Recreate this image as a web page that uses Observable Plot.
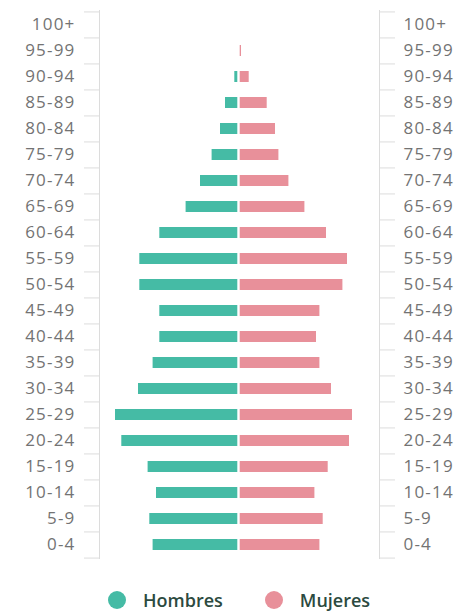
<!DOCTYPE html>
<html>
<head>
<meta charset="utf-8">
<script src="https://cdn.jsdelivr.net/npm/d3@7"></script>
<script src="https://cdn.jsdelivr.net/npm/@observablehq/plot@0.6"></script>
<style>
  html, body { margin: 0; padding: 0; background: #fff; }
  #wrap { position: relative; width: 462px; height: 614px; }
  #legend { position: absolute; left: 108px; top: 588px; display: flex; align-items: center;
    font-family: "Open Sans", sans-serif; font-weight: 600; font-size: 18px; color: #2c4a40; }
  .item { display: flex; align-items: center; }
  .sw { width: 18px; height: 18px; border-radius: 50%; display: inline-block; margin-right: 17px; }
</style>
</head>
<body>
<div id="wrap">
  <div id="chart"></div>
  <div id="legend"></div>
</div>
<script>
const ages = ["0-4","5-9","10-14","15-19","20-24","25-29","30-34","35-39","40-44","45-49","50-54","55-59","60-64","65-69","70-74","75-79","80-84","85-89","90-94","95-99","100+"];
const hombres = [84.7, 88, 81.3, 89.7, 116, 122.3, 99.3, 84.7, 78, 78, 98, 98, 78, 51.7, 37.3, 25.7, 17.3, 12.3, 3, 0, 0];
const mujeres = [79.7, 83, 74.7, 88, 109.3, 112.3, 91.3, 79.7, 76.3, 79.7, 102.7, 107.3, 86.3, 64.7, 48.7, 38.7, 35.3, 27, 9, 1.3, 0];
const series = ["Hombres", "Mujeres"];
const colors = ["#45bba5", "#e8909a"];

const male = ages.map((a, i) => ({age: a, v: hombres[i]})).filter(d => d.v > 0);
const female = ages.map((a, i) => ({age: a, v: mujeres[i]})).filter(d => d.v > 0);

const W = 462, H = 570, mT = 10, mB = 11, mL = 99, mR = 83;
const step = (H - mT - mB) / ages.length;
const grid = "#dcdcdc";
const xDom = [-139.5, 140.5];

const chart = Plot.plot({
  width: W, height: H,
  marginTop: mT, marginBottom: mB, marginLeft: mL, marginRight: mR,
  style: {fontSize: "17px", fontFamily: "'Open Sans', sans-serif", color: "#737373", letterSpacing: "1.2px", background: "#fff"},
  x: {domain: xDom, axis: null},
  y: {domain: ages.slice().reverse(), paddingInner: 0.56, paddingOuter: 0.28, label: null},
  marks: [
    Plot.ruleX(xDom, {stroke: grid}),
    Plot.axisY({anchor: "left", tickSize: 15, tickFormat: () => "", dy: -step / 2, stroke: grid, label: null}),
    Plot.axisY({anchor: "left", ticks: [ages[0]], tickSize: 15, tickFormat: () => "", dy: step / 2, stroke: grid, label: null}),
    Plot.axisY({anchor: "right", tickSize: 15, tickFormat: () => "", dy: -step / 2, stroke: grid, label: null}),
    Plot.axisY({anchor: "right", ticks: [ages[0]], tickSize: 15, tickFormat: () => "", dy: step / 2, stroke: grid, label: null}),
    Plot.axisY({anchor: "left", tickSize: 0, tickPadding: 24, label: null}),
    Plot.axisY({anchor: "right", tickSize: 0, tickPadding: 24, label: null}),
    Plot.barX(male, {y: "age", x1: d => -d.v, x2: 0, fill: colors[0], dx: -1.2}),
    Plot.barX(female, {y: "age", x1: 0, x2: d => d.v, fill: colors[1], dx: 1.2})
  ]
});
document.getElementById("chart").appendChild(chart);

const legend = document.getElementById("legend");
series.forEach((s, i) => {
  const it = document.createElement("span");
  it.className = "item";
  if (i > 0) it.style.marginLeft = "42px";
  it.innerHTML = `<span class="sw" style="background:${colors[i]}"></span><span>${s}</span>`;
  legend.appendChild(it);
});
</script>
</body>
</html>
